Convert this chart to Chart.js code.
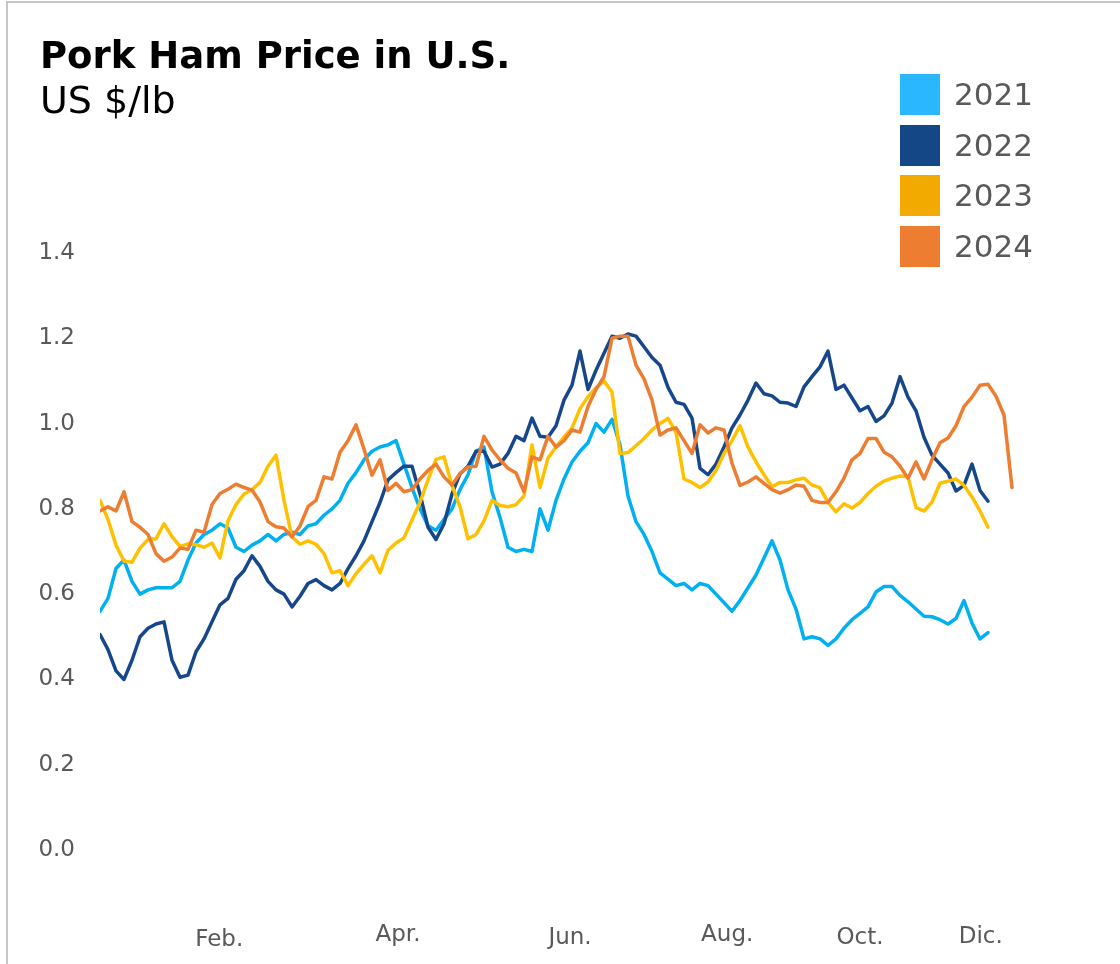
<!DOCTYPE html>
<html>
<head>
<meta charset="utf-8">
<title>Pork Ham Price in U.S.</title>
<script src="https://cdn.jsdelivr.net/npm/chart.js@4.4.1/dist/chart.umd.min.js"></script>
<style>
  html, body { margin: 0; padding: 0; background: #fff; }
  body {
    width: 1120px; height: 964px; overflow: hidden; position: relative;
    font-family: 'DejaVu Sans', Verdana, sans-serif;
  }
  .frame {
    position: absolute; left: 6px; top: 1px; width: 1200px; height: 1000px;
    border-left: 2px solid #c6c6c6; border-top: 2px solid #c6c6c6;
  }
  #priceChart { position: absolute; left: 0; top: 0; }
  .title {
    position: absolute; left: 40px; top: 37px; font-size: 37px; font-weight: bold;
    line-height: 1; color: #000; white-space: nowrap;
  }
  .subtitle {
    position: absolute; left: 40px; top: 81px; font-size: 38px;
    line-height: 1; color: #000; white-space: nowrap;
  }
  .legend { position: absolute; left: 900px; top: 74px; }
  .legend-row { display: flex; align-items: center; height: 41px; margin-bottom: 9.5px; }
  .legend-box { width: 40px; height: 41px; margin-right: 14px; }
  .legend-label { font-size: 31px; color: #595959; line-height: 1; }
</style>
</head>
<body>
<div class="frame"></div>
<canvas id="priceChart" width="1120" height="964"></canvas>
<div class="title">Pork Ham Price in U.S.</div>
<div class="subtitle">US $/lb</div>
<div class="legend" id="legend"></div>

<script>
// ---------------------------------------------------------------------------
// Data (US $/lb, one reading per observation step)
// ---------------------------------------------------------------------------

const years = ['2021', '2022', '2023', '2024'];

const price2021 = [
  0.56, 0.59, 0.66, 0.68, 0.63, 0.60, 0.61, 0.615, 0.615, 0.615,
  0.63, 0.68, 0.72, 0.74, 0.75, 0.765, 0.755, 0.71, 0.70, 0.715,
  0.725, 0.74, 0.725, 0.74, 0.745, 0.74, 0.76, 0.765, 0.785, 0.80,
  0.82, 0.86, 0.885, 0.915, 0.935, 0.945, 0.95, 0.96, 0.905, 0.85,
  0.80, 0.76, 0.75, 0.775, 0.80, 0.845, 0.88, 0.935, 0.945, 0.84,
  0.78, 0.71, 0.70, 0.705, 0.70, 0.80, 0.75, 0.82, 0.87, 0.91,
  0.935, 0.955, 1.0, 0.98, 1.01, 0.95, 0.83, 0.77, 0.74, 0.70,
  0.65, 0.635, 0.62, 0.625, 0.61, 0.625, 0.62, 0.60, 0.58, 0.56,
  0.585, 0.615, 0.645, 0.685, 0.725, 0.68, 0.61, 0.565, 0.495, 0.50,
  0.495, 0.48, 0.495, 0.52, 0.54, 0.555, 0.57, 0.605, 0.618, 0.618,
  0.597, 0.582, 0.565, 0.548, 0.547, 0.54, 0.53, 0.543, 0.585, 0.532,
  0.495, 0.51,
];

const price2022 = [
  0.505, 0.47, 0.42, 0.40, 0.445, 0.50, 0.52, 0.53, 0.535, 0.445,
  0.405, 0.41, 0.465, 0.495, 0.535, 0.575, 0.59, 0.635, 0.655, 0.69,
  0.665, 0.63, 0.61, 0.60, 0.57, 0.595, 0.625, 0.634, 0.62, 0.61,
  0.625, 0.66, 0.69, 0.725, 0.77, 0.815, 0.868, 0.885, 0.90, 0.90,
  0.835, 0.757, 0.728, 0.765, 0.835, 0.882, 0.90, 0.935, 0.935, 0.898,
  0.905, 0.93, 0.97, 0.96, 1.013, 0.97, 0.968, 0.995, 1.055, 1.09,
  1.17, 1.08, 1.125, 1.165, 1.205, 1.20, 1.21, 1.205, 1.18, 1.155,
  1.137, 1.085, 1.05, 1.045, 1.013, 0.895, 0.88, 0.905, 0.945, 0.99,
  1.02, 1.055, 1.095, 1.07, 1.065, 1.05, 1.048, 1.04, 1.086, 1.11,
  1.133, 1.17, 1.08, 1.09, 1.06, 1.03, 1.04, 1.005, 1.018, 1.048,
  1.11, 1.062, 1.03, 0.968, 0.926, 0.905, 0.884, 0.842, 0.855, 0.905,
  0.843, 0.818,
];

const price2023 = [
  0.82, 0.775, 0.715, 0.677, 0.675, 0.708, 0.728, 0.73, 0.765, 0.735,
  0.712, 0.718, 0.716, 0.71, 0.72, 0.685, 0.772, 0.81, 0.835, 0.845,
  0.862, 0.90, 0.926, 0.82, 0.734, 0.717, 0.725, 0.717, 0.695, 0.65,
  0.655, 0.62, 0.648, 0.67, 0.69, 0.65, 0.703, 0.72, 0.732, 0.774,
  0.815, 0.868, 0.916, 0.922, 0.855, 0.805, 0.73, 0.74, 0.772, 0.82,
  0.808, 0.805, 0.81, 0.83, 0.95, 0.85, 0.919, 0.945, 0.968, 0.99,
  1.035, 1.063, 1.084, 1.10, 1.074, 0.93, 0.932, 0.948, 0.965, 0.985,
  1.0, 1.012, 0.98, 0.87, 0.862, 0.85, 0.863, 0.89, 0.93, 0.96,
  0.995, 0.945, 0.91, 0.88, 0.852, 0.862, 0.862, 0.868, 0.872, 0.856,
  0.849, 0.815, 0.793, 0.812, 0.802, 0.815, 0.836, 0.853, 0.865, 0.872,
  0.877, 0.875, 0.803, 0.795, 0.816, 0.86, 0.865, 0.87, 0.855, 0.828,
  0.795, 0.757,
];

const price2024 = [
  0.795, 0.805, 0.795, 0.84, 0.77, 0.757, 0.74, 0.695, 0.677, 0.687,
  0.708, 0.705, 0.75, 0.745, 0.81, 0.836, 0.846, 0.858, 0.85, 0.844,
  0.816, 0.77, 0.758, 0.755, 0.734, 0.76, 0.805, 0.82, 0.875, 0.87,
  0.933, 0.96, 0.997, 0.94, 0.879, 0.915, 0.843, 0.86, 0.84, 0.845,
  0.87, 0.89, 0.905, 0.875, 0.856, 0.883, 0.898, 0.90, 0.97, 0.938,
  0.915, 0.895, 0.884, 0.84, 0.922, 0.915, 0.97, 0.945, 0.96, 0.985,
  0.98, 1.04, 1.08, 1.11, 1.2, 1.205, 1.205, 1.137, 1.105, 1.055,
  0.973, 0.985, 0.99, 0.96, 0.93, 0.997, 0.978, 0.99, 0.985, 0.907,
  0.855, 0.863, 0.875, 0.86, 0.845, 0.837, 0.845, 0.856, 0.853, 0.82,
  0.815, 0.815, 0.84, 0.872, 0.915, 0.93, 0.965, 0.965, 0.933, 0.922,
  0.90, 0.872, 0.91, 0.87, 0.915, 0.955, 0.966, 0.995, 1.04, 1.062,
  1.09, 1.092, 1.064, 1.02, 0.85,
];

// observation step index along the year
const obsIndex = Array.from({ length: price2024.length }, (_, i) => i);

// month tick labels, placed on the observation scale
const monthNames = ['Feb.', 'Apr.', 'Jun.', 'Aug.', 'Oct.', 'Dic.'];
const monthTicks = [14.9, 37.25, 58.75, 78.4, 95, 110.1];

const yTicks = [0, 0.2, 0.4, 0.6, 0.8, 1.0, 1.2, 1.4];

// ---------------------------------------------------------------------------
// Styling
// ---------------------------------------------------------------------------

const LINE_COLORS = { '2021': '#00b0f0', '2022': '#16478b', '2023': '#ffc000', '2024': '#ed7d31' };
const BOX_COLORS  = { '2021': '#2ab7ff', '2022': '#134786', '2023': '#f2a900', '2024': '#ed7d31' };
const monthDrop   = [90, 85, 88, 85, 88, 87];   // px below plot bottom, label centre
const FONT        = "'DejaVu Sans', Verdana, sans-serif";

Chart.defaults.font.family = FONT;

const monthLabelPlugin = {
  id: 'monthLabels',
  afterDraw(chart) {
    const { ctx, chartArea } = chart;
    const xScale = chart.scales.x;
    ctx.save();
    ctx.font         = '23px ' + FONT;
    ctx.fillStyle    = '#595959';
    ctx.textAlign    = 'center';
    ctx.textBaseline = 'middle';
    monthNames.forEach((name, i) => {
      ctx.fillText(name, xScale.getPixelForValue(monthTicks[i]), chartArea.bottom + monthDrop[i]);
    });
    ctx.restore();
  },
};

// ---------------------------------------------------------------------------
// Chart
// ---------------------------------------------------------------------------

const seriesByYear = { '2021': price2021, '2022': price2022, '2023': price2023, '2024': price2024 };

new Chart(document.getElementById('priceChart'), {
  type: 'line',
  data: {
    labels: obsIndex,
    datasets: years.map((y, idx) => ({
      label: y,
      data: seriesByYear[y],
      borderColor: LINE_COLORS[y],
      borderWidth: 3.5,
      borderJoinStyle: 'round',
      borderCapStyle: 'round',
      pointRadius: 0,
      tension: 0,
      fill: false,
      order: years.length - idx,
    })),
  },
  plugins: [monthLabelPlugin],
  options: {
    responsive: false,
    animation: false,
    layout: { padding: { top: 253, right: 92, bottom: 114, left: 0 } },
    plugins: { legend: { display: false }, tooltip: { enabled: false } },
    scales: {
      x: { type: 'linear', min: 0, max: 116, display: false },
      y: {
        min: 0,
        max: 1.4,
        afterBuildTicks: (scale) => { scale.ticks = yTicks.map(v => ({ value: v })); },
        afterFit: (scale) => { scale.width = 100; },
        ticks: {
          padding: 25,
          color: '#595959',
          font: { size: 23 },
          callback: (v) => Number(v).toFixed(1),
        },
        grid:   { display: false, drawTicks: false },
        border: { display: false },
      },
    },
  },
});

document.getElementById('legend').innerHTML = years.map(y => `
  <div class="legend-row">
    <span class="legend-box" style="background:${BOX_COLORS[y]}"></span>
    <span class="legend-label">${y}</span>
  </div>
`).join('');
</script>
</body>
</html>
